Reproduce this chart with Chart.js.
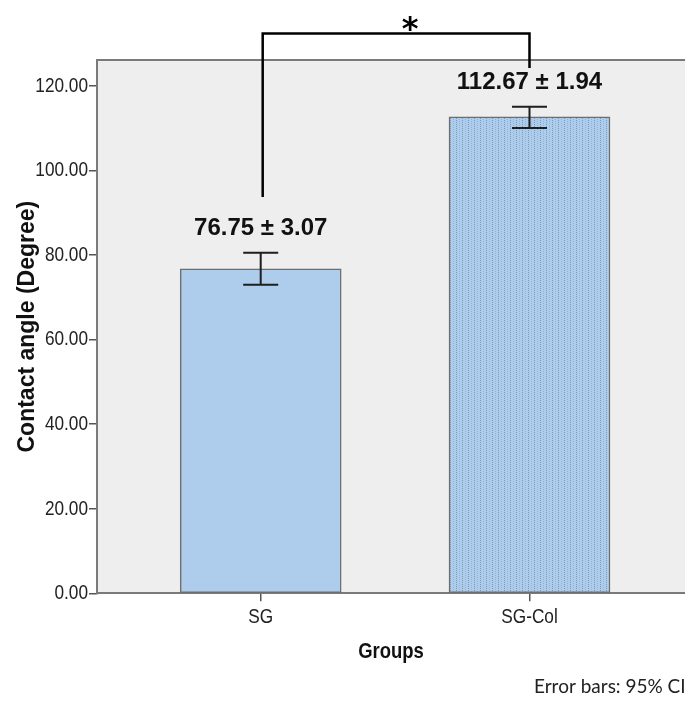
<!DOCTYPE html>
<html>
<head>
<meta charset="utf-8">
<script src="https://cdn.jsdelivr.net/npm/chart.js@4.4.1/dist/chart.umd.min.js"></script>
<style>
  html, body { margin: 0; padding: 0; background: #ffffff; }
  canvas { display: block; }
</style>
</head>
<body>
<canvas id="chart" width="685" height="702"></canvas>
<script>
// Contact angle per group: mean, SD and 95% confidence interval
const groups = ['SG', 'SG-Col'];
const groupPositions = [1, 2];
const meanAngle = [76.75, 112.67];
const sdAngle = [3.07, 1.94];
const ciLower = [72.95, 110.05];
const ciUpper = [80.55, 115.05];
const yTicks = [0, 20, 40, 60, 80, 100, 120];

const BAR_BLUE = '#aecdec';
const NARROW = 0.82; // horizontal squeeze for axis texts

// Draw text squeezed horizontally by passing a reduced maxWidth to fillText
function narrowText(ctx, draw) {
  const original = ctx.fillText;
  ctx.fillText = function (text, x, y, maxWidth) {
    const w = this.measureText(text).width * NARROW;
    original.call(this, text, x, y, maxWidth !== undefined ? Math.min(maxWidth, w) : w);
  };
  try { draw(); } finally { ctx.fillText = original; }
}

// Linear scale whose tick labels (and horizontal title) use condensed text
class NarrowLinearScale extends Chart.LinearScale {
  drawLabels(chartArea) {
    narrowText(this.ctx, () => super.drawLabels(chartArea));
  }
  drawTitle() {
    if (this.isHorizontal()) {
      narrowText(this.ctx, () => super.drawTitle());
    } else {
      super.drawTitle();
    }
  }
}
NarrowLinearScale.id = 'narrowLinear';
NarrowLinearScale.defaults = Chart.LinearScale.defaults;
Chart.register(NarrowLinearScale);

// Fine dotted vertical texture for the second bar
function dottedPattern() {
  const c = document.createElement('canvas');
  c.width = 6; c.height = 4;
  const g = c.getContext('2d');
  g.fillStyle = BAR_BLUE;
  g.fillRect(0, 0, 6, 4);
  g.fillStyle = '#7898ba';
  g.fillRect(0, 0, 1, 1);
  g.fillRect(0, 2, 1, 1);
  g.fillStyle = '#94b3d4';
  g.fillRect(3, 1, 1, 1);
  g.fillRect(3, 3, 1, 1);
  return g.createPattern(c, 'repeat');
}

// Grey plot panel with a frame line along its top
const plotFrame = {
  id: 'plotFrame',
  beforeDraw(chart) {
    const { ctx, chartArea: a } = chart;
    ctx.save();
    ctx.fillStyle = '#eeeeee';
    ctx.fillRect(a.left, a.top, a.right - a.left, a.bottom - a.top);
    ctx.strokeStyle = '#7a7a7a';
    ctx.lineWidth = 2;
    ctx.beginPath();
    ctx.moveTo(a.left, a.top);
    ctx.lineTo(a.right, a.top);
    ctx.stroke();
    ctx.restore();
  }
};

// Error bars, mean ± SD labels, significance bracket and footnote
const annotations = {
  id: 'annotations',
  afterDatasetsDraw(chart, args, opts) {
    const { ctx } = chart;
    const xs = chart.scales.x, ys = chart.scales.y;
    ctx.save();
    const centers = [];
    groupPositions.forEach((pos, i) => {
      const px = xs.getPixelForValue(pos);
      centers.push(px);
      const hi = ys.getPixelForValue(ciUpper[i]);
      const lo = ys.getPixelForValue(ciLower[i]);
      ctx.strokeStyle = '#1e1e1e';
      ctx.lineWidth = 2;
      ctx.beginPath();
      ctx.moveTo(px, hi); ctx.lineTo(px, lo);
      ctx.moveTo(px - 17.5, hi); ctx.lineTo(px + 17.5, hi);
      ctx.moveTo(px - 17.5, lo); ctx.lineTo(px + 17.5, lo);
      ctx.stroke();

      ctx.fillStyle = '#111111';
      ctx.font = 'bold 24px "Liberation Sans", Arial, sans-serif';
      ctx.textAlign = 'center';
      ctx.textBaseline = 'middle';
      ctx.fillText(meanAngle[i].toFixed(2) + ' \u00b1 ' + sdAngle[i].toFixed(2), px, hi - 24);
    });

    // significance bracket between the two groups
    ctx.strokeStyle = '#000000';
    ctx.lineWidth = 2.5;
    ctx.lineJoin = 'miter';
    ctx.beginPath();
    ctx.moveTo(centers[0] + 2, opts.legEnds[0]);
    ctx.lineTo(centers[0] + 2, opts.bracketY);
    ctx.lineTo(centers[1], opts.bracketY);
    ctx.lineTo(centers[1], opts.legEnds[1]);
    ctx.stroke();
    ctx.fillStyle = '#000000';
    ctx.font = 'bold 32px "DejaVu Sans", sans-serif';
    ctx.textAlign = 'center';
    ctx.textBaseline = 'middle';
    ctx.fillText('*', opts.starX, opts.starY);
    ctx.restore();
  },
  afterDraw(chart) {
    const { ctx } = chart;
    ctx.save();
    ctx.fillStyle = '#222222';
    ctx.font = '19px Lato, "Open Sans", sans-serif';
    ctx.textAlign = 'left';
    ctx.textBaseline = 'middle';
    ctx.fillText('Error bars: 95% CI', 534, 687);
    ctx.restore();
  }
};

const AXIS_FONT = '"Liberation Sans", Arial, sans-serif';

new Chart(document.getElementById('chart'), {
  type: 'bar',
  data: {
    datasets: [{
      data: groupPositions.map((x, i) => ({ x: x, y: meanAngle[i] })),
      backgroundColor: [BAR_BLUE, dottedPattern()],
      borderColor: '#6e6e6e',
      borderWidth: 1.5,
      borderSkipped: false,
      barThickness: 161
    }]
  },
  options: {
    responsive: false,
    animation: false,
    layout: { padding: { top: 60, right: 0, bottom: 0, left: 0 } },
    plugins: {
      legend: { display: false },
      tooltip: { enabled: false },
      annotations: { bracketY: 33.5, legEnds: [197, 68], starX: 410, starY: 31 }
    },
    scales: {
      x: {
        type: 'narrowLinear',
        min: 0.391,
        max: 2.5785,
        offset: false,
        afterBuildTicks: s => { s.ticks = groupPositions.map(v => ({ value: v })); },
        afterFit: s => { s.height = 108.7; },
        ticks: {
          callback: v => groups[groupPositions.indexOf(v)] ?? '',
          font: { family: AXIS_FONT, size: 21 },
          color: '#222222',
          padding: 3,
          maxRotation: 0,
          autoSkip: false
        },
        grid: { offset: false, drawOnChartArea: false, drawTicks: true, tickLength: 8, color: '#555555', lineWidth: 1.5 },
        border: { display: true, color: '#7a7a7a', width: 2 },
        title: {
          display: true,
          text: 'Groups',
          color: '#111111',
          font: { family: AXIS_FONT, size: 22.5, weight: 'bold' },
          padding: { top: 0, bottom: 37 }
        }
      },
      y: {
        type: 'narrowLinear',
        min: 0,
        max: 126.1,
        afterBuildTicks: s => { s.ticks = yTicks.map(v => ({ value: v })); },
        afterFit: s => { s.width = 97; },
        ticks: {
          callback: v => Number(v).toFixed(2),
          font: { family: AXIS_FONT, size: 21 },
          color: '#222222',
          padding: 1
        },
        grid: { drawOnChartArea: false, drawTicks: true, tickLength: 8, color: '#555555', lineWidth: 1.5 },
        border: { display: true, color: '#7a7a7a', width: 2 },
        title: {
          display: true,
          text: 'Contact angle (Degree)',
          color: '#111111',
          font: { family: AXIS_FONT, size: 23, weight: 'bold' },
          padding: { top: 14, bottom: 0 }
        }
      }
    }
  },
  plugins: [plotFrame, annotations]
});
</script>
</body>
</html>
